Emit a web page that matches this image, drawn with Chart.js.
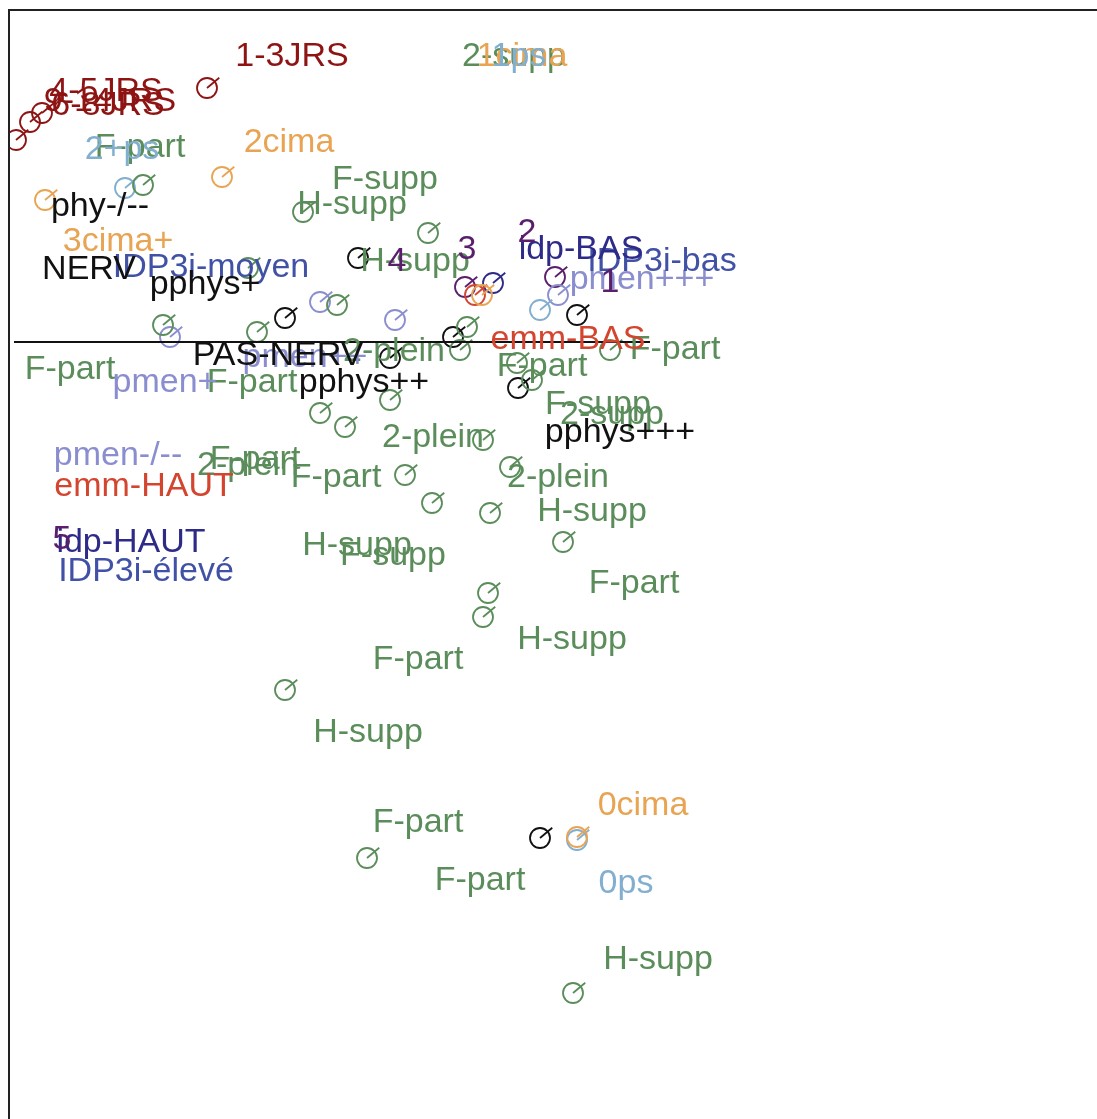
<!DOCTYPE html>
<html>
<head>
<meta charset="utf-8">
<script src="https://cdn.jsdelivr.net/npm/chart.js@4/dist/chart.umd.min.js"></script>
<style>
  html, body { margin: 0; padding: 0; background: #fff; }
  #wrap { width: 1097px; height: 1119px; }
</style>
</head>
<body>
<div id="wrap"><canvas id="myChart"></canvas></div>
<script>
var vertLab = ['F-part', 'F-supp', 'H-supp', 'H-supp', '2-supp', 'F-part', 'F-part', '2-plein', 'F-part', 'F-part',
    'F-supp', '2-supp', '2-plein', 'F-part', '2-plein', 'F-part', '2-plein', 'H-supp', 'H-supp', 'F-supp',
    'F-part', 'H-supp', 'F-part', 'H-supp', 'F-part', 'F-part', 'H-supp'];
var vertLabX = [1.31, 3.76, 3.43, 4.06, 5.05, 0.61, 2.43, 3.85, 5.33, 6.66, 5.89, 6.03, 4.24, 2.46, 2.39, 3.27, 5.49, 5.83, 3.48, 3.84, 6.25, 5.63, 4.09, 3.59, 4.09, 4.71, 6.49];
var vertLabY = [1.94, 1.62, 1.37, 0.80, 2.85, -0.28, -0.41, -0.10, -0.25, -0.08, -0.63, -0.73, -0.96, -1.18, -1.24, -1.36, -1.36, -1.70, -2.04, -2.14, -2.42, -2.98, -3.18, -3.91, -4.81, -5.39, -6.18];
var vertX = [1.34, 2.94, 4.19, 2.39, 3.28, 1.54, 2.48, 4.58, 4.51, 6.01, 3.81, 3.11, 3.36, 4.74, 5.08, 5.23, 3.96, 5.01, 4.23, 4.81, 5.54, 4.79, 4.74, 2.76, 3.58, 5.64];
var vertY = [1.57, 1.30, 1.09, 0.74, 0.37, 0.17, 0.10, 0.15, -0.08, -0.08, -0.58, -0.71, -0.85, -0.98, -0.21, -0.38, -1.33, -1.25, -1.61, -1.71, -2.00, -2.51, -2.75, -3.48, -5.16, -6.51];

var jrsLab = ['1-3JRS', '4-5JRS', '6-8JRS', '9-14JRS'];
var jrsLabX = [2.83, 0.97, 0.99, 1.01];
var jrsLabY = [2.85, 2.50, 2.36, 2.40];
var jrsX = [1.98, 0.33, 0.21, 0.07];
var jrsY = [2.54, 2.29, 2.20, 2.02];

var cimaLab = ['2cima', '3cima+', '0cima', '1cima'];
var cimaLabX = [2.80, 1.09, 6.34, 5.13];
var cimaLabY = [1.99, 1.00, -4.64, 2.85];
var cimaX = [2.13, 0.36, 5.68, 4.73];
var cimaY = [1.65, 1.42, -4.95, 0.47];

var psLab = ['2+ps', '0ps', '1ps'];
var psLabX = [1.13, 6.17, 5.10];
var psLabY = [1.92, -5.42, 2.85];
var psX = [1.16, 5.68, 5.31];
var psY = [1.54, -4.98, 0.32];

var pmenLab = ['pmen+', 'pmen++', 'pmen+++', 'pmen-/--'];
var pmenLabX = [1.56, 2.96, 6.33, 1.09];
var pmenLabY = [-0.41, -0.16, 0.62, -1.14];
var pmenX = [1.61, 3.11, 3.86, 5.49];
var pmenY = [0.05, 0.40, 0.22, 0.47];

var emmLab = ['emm-BAS', 'emm-HAUT'];
var emmLabX = [5.59, 1.35];
var emmLabY = [0.02, -1.45];
var emmX = [4.66];
var emmY = [0.47];

var numLab = ['1', '2', '3', '4', '5'];
var numLabX = [6.01, 5.18, 4.58, 3.88, 0.53];
var numLabY = [0.59, 1.09, 0.92, 0.80, -1.98];
var numX = [4.56, 5.46];
var numY = [0.55, 0.65];

var idpLab = ['idp-BAS', 'idp-HAUT'];
var idpLabX = [5.72, 1.22];
var idpLabY = [0.92, -2.01];
var idpX = [4.84];
var idpY = [0.59];

var idp3Lab = ['IDP3i-moyen', 'IDP3i-bas', 'IDP3i-élevé'];
var idp3LabX = [2.02, 6.53, 1.37];
var idp3LabY = [0.74, 0.80, -2.30];

var noirLab = ['phy-/--', 'NERV', 'pphys+', 'PAS-NERV', 'pphys++', 'pphys+++'];
var noirLabX = [0.91, 0.80, 1.96, 2.69, 3.55, 6.11];
var noirLabY = [1.35, 0.72, 0.57, -0.14, -0.41, -0.91];
var noirX = [2.76, 3.49, 4.44, 5.09, 5.68, 3.81, 5.31];
var noirY = [0.24, 0.84, 0.05, -0.46, 0.27, -0.16, -4.96];

function pts(xs, ys) {
    return xs.map(function (x, i) { return { x: x, y: ys[i] }; });
}

function cercles(xs, ys, color) {
    return [{
        data: pts(xs, ys), pointStyle: 'circle', pointRadius: 10, pointBorderWidth: 1.8,
        pointBorderColor: color, pointBackgroundColor: 'rgba(0,0,0,0)', showLine: false
    }, {
        data: pts(xs, ys), pointStyle: 'dash', pointRadius: 16, pointRotation: -40, pointBorderWidth: 1.8,
        pointBorderColor: color, showLine: false
    }];
}

function textes(labs, xs, ys, color) {
    return { data: pts(xs, ys), texts: labs, textColor: color, pointRadius: 0, showLine: false };
}

var vert = '#5b8d5b', rougeF = '#8e1414', orange = '#e8a452', bleuC = '#82aecf', pmen = '#8a8ecf',
    rouge = '#d3452f', violet = '#5a1e6c', marine = '#2e2a88', bleu = '#4152a6', noir = '#111111';

var datasets = [{
    type: 'line', data: [{ x: 0.05, y: 0 }, { x: 6.41, y: 0 }],
    borderColor: '#111', borderWidth: 2, pointRadius: 0
}];
datasets = datasets
    .concat(cercles(vertX, vertY, vert))
    .concat(cercles(jrsX, jrsY, rougeF))
    .concat(cercles(cimaX, cimaY, orange))
    .concat(cercles(psX, psY, bleuC))
    .concat(cercles(pmenX, pmenY, pmen))
    .concat(cercles(emmX, emmY, rouge))
    .concat(cercles(numX, numY, violet))
    .concat(cercles(idpX, idpY, marine))
    .concat(cercles(noirX, noirY, noir));
datasets.push(textes(vertLab, vertLabX, vertLabY, vert));
datasets.push(textes(jrsLab, jrsLabX, jrsLabY, rougeF));
datasets.push(textes(cimaLab, cimaLabX, cimaLabY, orange));
datasets.push(textes(psLab, psLabX, psLabY, bleuC));
datasets.push(textes(pmenLab, pmenLabX, pmenLabY, pmen));
datasets.push(textes(emmLab, emmLabX, emmLabY, rouge));
datasets.push(textes(idp3Lab, idp3LabX, idp3LabY, bleu));
datasets.push(textes(noirLab, noirLabX, noirLabY, noir));
datasets.push(textes(idpLab, idpLabX, idpLabY, marine));
datasets.push(textes(numLab, numLabX, numLabY, violet));

var textLabels = {
    id: 'textLabels',
    afterDatasetsDraw: function (chart) {
        var ctx = chart.ctx;
        chart.data.datasets.forEach(function (ds, i) {
            if (!ds.texts) return;
            var meta = chart.getDatasetMeta(i);
            ctx.save();
            ctx.font = '34px "Liberation Sans", Arial, sans-serif';
            ctx.fillStyle = ds.textColor;
            ctx.textAlign = 'center';
            ctx.textBaseline = 'middle';
            meta.data.forEach(function (el, j) {
                ctx.fillText(ds.texts[j], el.x, el.y);
            });
            ctx.restore();
        });
    }
};

var cadre = {
    id: 'cadre',
    beforeDraw: function (chart) {
        var c = chart.ctx;
        c.save();
        c.fillStyle = '#fff';
        c.fillRect(0, 0, chart.width, chart.height);
        c.restore();
    },
    afterDraw: function (chart) {
        var a = chart.chartArea, c = chart.ctx;
        c.save();
        c.strokeStyle = '#222';
        c.lineWidth = 2;
        c.beginPath();
        c.moveTo(a.left, a.bottom);
        c.lineTo(a.left, a.top);
        c.lineTo(a.right, a.top);
        c.stroke();
        c.restore();
    }
};

var ctx = document.getElementById('myChart').getContext('2d');
var myChart = new Chart(ctx, {
    type: 'scatter',
    data: { datasets: datasets },
    options: {
        responsive: true,
        maintainAspectRatio: false,
        animation: false,
        layout: { autoPadding: false, padding: { left: 9, top: 10, right: 0, bottom: 0 } },
        scales: {
            x: { type: 'linear', min: 0, max: 10.88, display: false },
            y: { type: 'linear', min: -7.77, max: 3.32, display: false }
        },
        plugins: {
            legend: { display: false },
            tooltip: { enabled: false }
        }
    },
    plugins: [textLabels, cadre]
});
</script>
</body>
</html>
